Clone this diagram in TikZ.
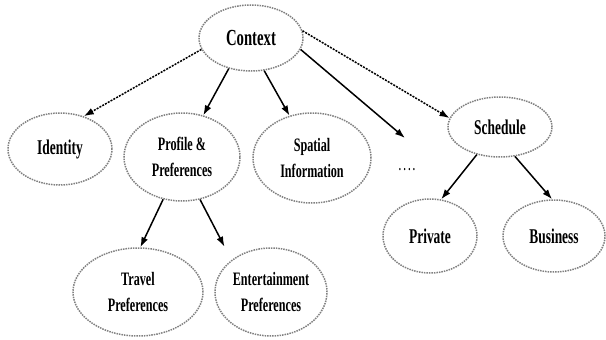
\documentclass[tikz,border=0pt]{standalone}
\usepackage{fontspec}
\usetikzlibrary{shapes.geometric,arrows.meta}
\newfontfamily\nodefont[FakeStretch=0.64]{Liberation Serif}

\begin{document}
\begin{tikzpicture}[x=1pt,y=-1pt,
  ctxnode/.style={ellipse,draw=black!50,line width=1.5pt,dash pattern=on 1.5pt off 1pt,inner sep=0pt,
    font=\nodefont\bfseries\fontsize{21}{24}\selectfont},
  twoline/.style={ctxnode,align=center,font=\nodefont\bfseries\fontsize{19}{26}\selectfont},
  arr/.style={-{Latex[length=10pt,width=7pt]},line width=1.5pt},
  dotarr/.style={arr,dash pattern=on 2pt off 1.2pt}]
\useasboundingbox (0,0) rectangle (606,340);
% top level
\node[ctxnode,minimum width=104pt,minimum height=66pt,font=\nodefont\bfseries\fontsize{23}{26}\selectfont] (ctx) at (251,38) {Context};
% second level
\node[ctxnode,minimum width=104pt,minimum height=72pt] (ident) at (60,149) {Identity};
\node[twoline,minimum width=116pt,minimum height=88pt] (prof) at (182,157) {Profile \&\\Preferences};
\node[twoline,minimum width=118pt,minimum height=90pt] (spat) at (312,158) {Spatial\\Information};
\node[font=\nodefont\bfseries\fontsize{14}{16}\selectfont] (more) at (407,170) {.\hspace{2.5pt}.\hspace{2.5pt}.\hspace{2.5pt}.};
\coordinate (moreend) at (405,138);
\node[ctxnode,minimum width=104pt,minimum height=60pt] (sched) at (500,127) {Schedule};
% third level
\node[twoline,minimum width=130pt,minimum height=88pt] (trav) at (138,292) {Travel\\Preferences};
\node[twoline,minimum width=112pt,minimum height=88pt] (ent) at (271,292) {Entertainment\\Preferences};
\node[ctxnode,minimum width=94pt,minimum height=74pt] (priv) at (430,236) {Private};
\node[ctxnode,minimum width=102pt,minimum height=72pt] (busi) at (554,236) {Business};
% arrows
\draw[dotarr] (ctx.193) -- (ident.54);
\draw[arr] (ctx.234) -- (prof.63);
\draw[arr] (ctx.292) -- (spat.118);
\draw[arr] (ctx.347) -- (moreend);
\draw[dotarr] (ctx.8) -- (sched.170);
\draw[arr] (prof.246) -- (trav.87);
\draw[arr,shorten >=15pt] (prof.293) -- (ent.141);
\draw[arr] (sched.230) -- (priv.73);
\draw[arr] (sched.297) -- (busi.93);
\end{tikzpicture}
\end{document}
